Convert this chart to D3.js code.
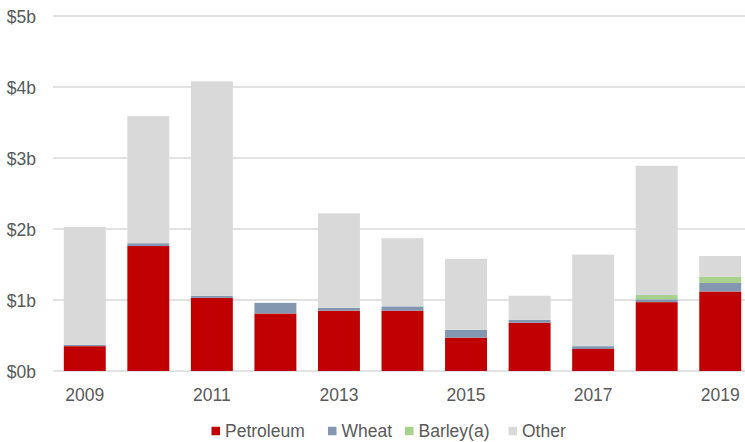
<!DOCTYPE html>
<html>
<head>
<meta charset="utf-8">
<script src="https://cdnjs.cloudflare.com/ajax/libs/d3/7.8.5/d3.min.js"></script>
<style>
  body { margin: 0; background: #fff; }
  svg { display: block; font-family: "Liberation Sans", Arial, sans-serif; }
</style>
</head>
<body>
<svg width="745" height="442"></svg>
<script>
// values in $ billions
const years = ['2009','2010','2011','2012','2013','2014','2015','2016','2017','2018','2019'];
const petroleum = [0.35, 1.76, 1.03, 0.81, 0.85, 0.85, 0.47, 0.68, 0.31, 0.97, 1.12];
const wheat     = [0.02, 0.04, 0.03, 0.15, 0.04, 0.06, 0.11, 0.04, 0.04, 0.04, 0.12];
const barley    = [0,    0,    0,    0,    0,    0,    0,    0,    0,    0.06, 0.09];
const other     = [1.66, 1.79, 3.02, 0,    1.33, 0.96, 1.00, 0.34, 1.29, 1.82, 0.29];
const yTicks = [0, 1, 2, 3, 4, 5];

const seriesNames = ['Petroleum', 'Wheat', 'Barley(a)', 'Other'];
const colors = ['#C00000', '#8497B0', '#A9D18E', '#D9D9D9'];

const rows = years.map((y, i) => ({year: y, s0: petroleum[i], s1: wheat[i], s2: barley[i], s3: other[i]}));
const stack = d3.stack().keys(['s0','s1','s2','s3'])(rows);

const svg = d3.select('svg');
const margin = {left: 53, right: -7, top: 16, bottom: 71};
const W = 745, H = 442;
const fs = 17.5;

const x = d3.scaleBand().domain(years)
  .range([margin.left, W - margin.right])
  .paddingInner(0.34).paddingOuter(0.17);
const y = d3.scaleLinear().domain([0, 5]).range([H - margin.bottom, margin.top]);

// gridlines
svg.append('g').selectAll('line')
  .data(yTicks)
  .enter().append('line')
  .attr('x1', margin.left).attr('x2', W)
  .attr('y1', d => y(d)).attr('y2', d => y(d))
  .attr('stroke', '#D9D9D9').attr('stroke-width', 1.3);

// y labels
svg.append('g').selectAll('text')
  .data(yTicks)
  .enter().append('text')
  .attr('x', 36).attr('y', d => y(d) + 1).attr('dy', '0.35em')
  .attr('text-anchor', 'end')
  .attr('fill', '#595959').attr('font-size', fs)
  .text(d => '$' + d + 'b');

// bars
svg.append('g').selectAll('g')
  .data(stack)
  .enter().append('g')
  .attr('fill', (d, i) => colors[i])
  .selectAll('rect')
  .data(d => d)
  .enter().append('rect')
  .attr('x', d => x(d.data.year))
  .attr('width', x.bandwidth())
  .attr('y', d => y(d[1]))
  .attr('height', d => y(d[0]) - y(d[1]));

// x labels, every other year
svg.append('g').selectAll('text')
  .data(years.filter((d, i) => i % 2 === 0))
  .enter().append('text')
  .attr('x', d => x(d) + x.bandwidth() / 2)
  .attr('y', 401)
  .attr('text-anchor', 'middle')
  .attr('fill', '#595959').attr('font-size', fs)
  .text(d => d);

// legend
const legendX = [211.5, 328, 405, 508.5];
const lg = svg.append('g').selectAll('g')
  .data(seriesNames)
  .enter().append('g')
  .attr('transform', (d, i) => `translate(${legendX[i]},431)`);
lg.append('rect')
  .attr('x', 0).attr('y', -4.25).attr('width', 8.5).attr('height', 8.5)
  .attr('fill', (d, i) => colors[i]);
lg.append('text')
  .attr('x', 13.5).attr('y', 6)
  .attr('fill', '#595959').attr('font-size', fs)
  .text(d => d);
</script>
</body>
</html>
